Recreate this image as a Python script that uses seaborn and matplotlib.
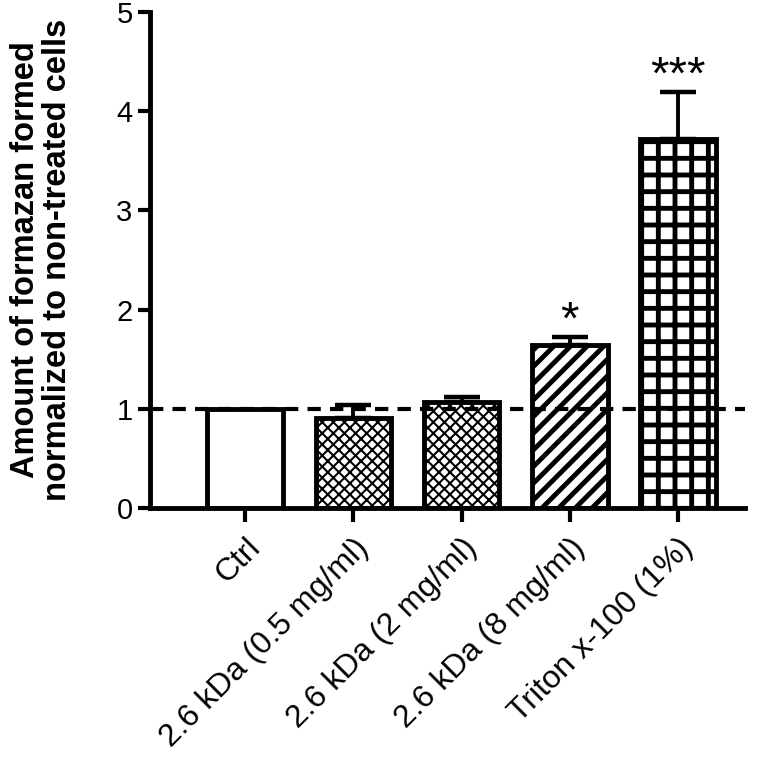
import numpy as np
import matplotlib
matplotlib.use('Agg')
import matplotlib.pyplot as plt
import seaborn as sns

# Data
groups = ['Ctrl', '2.6 kDa (0.5 mg/ml)', '2.6 kDa (2 mg/ml)',
          '2.6 kDa (8 mg/ml)', 'Triton x-100 (1%)']
means = [1.0, 0.91, 1.07, 1.64, 3.72]
errs = [0.0, 0.13, 0.05, 0.08, 0.47]
stars = ['', '', '', '*', '***']
hatches = ['', 'xxx', 'xxx', '//', '+']

sns.set_style('ticks')
plt.rcParams['font.family'] = ['Liberation Sans', 'DejaVu Sans']
plt.rcParams['hatch.linewidth'] = 3.5
for k in ['text.color', 'axes.labelcolor', 'xtick.color', 'ytick.color', 'axes.edgecolor']:
    plt.rcParams[k] = 'black'

fig = plt.figure(figsize=(7.77, 7.59), dpi=100)
ax = fig.add_axes([0.193, 0.331, 0.766, 0.653])

sns.barplot(x=groups, y=means, ax=ax, color='white', edgecolor='black',
            linewidth=3.5, width=0.7, saturation=1)

for patch, h in zip(ax.patches, hatches):
    patch.set_hatch(h)
    if h.startswith('x') and hasattr(patch, 'set_hatch_linewidth'):
        patch.set_hatch_linewidth(1.5)

# one-sided error bars (upper only), skip Ctrl
idx = [i for i in range(len(groups)) if errs[i] > 0]
ax.errorbar(idx, [means[i] for i in idx],
            yerr=[np.zeros(len(idx)), [errs[i] for i in idx]],
            fmt='none', ecolor='black', elinewidth=2.8, capsize=13, capthick=3.2,
            zorder=1)

# reference line at 1
ax.axhline(1, color='black', lw=3, ls=(0, (3.2, 2.2)), zorder=5)

# significance stars
for i, s in enumerate(stars):
    if s:
        ax.text(i, means[i] + errs[i] - 0.06, s, ha='center', va='bottom',
                fontsize=34)

ax.set_xlim(-0.88, 4.62)
ax.set_ylim(0, 5)
ax.set_yticks([0, 1, 2, 3, 4, 5])
ax.set_xticks(range(len(groups)))
ax.set_xticklabels(groups, rotation=45, ha='right', rotation_mode='anchor',
                   fontsize=23)
ax.tick_params(axis='y', labelsize=21, width=3, length=9)
ax.tick_params(axis='x', width=3, length=10, pad=8)
ax.set_ylabel('Amount of formazan formed\nnormalized to non-treated cells',
              fontsize=23.5, fontweight='bold', labelpad=31, linespacing=1.05)
ax.set_xlabel('')

sns.despine(ax=ax)
for sp in ['left', 'bottom']:
    ax.spines[sp].set_linewidth(3.5)

fig.savefig('out.png', dpi=100)
